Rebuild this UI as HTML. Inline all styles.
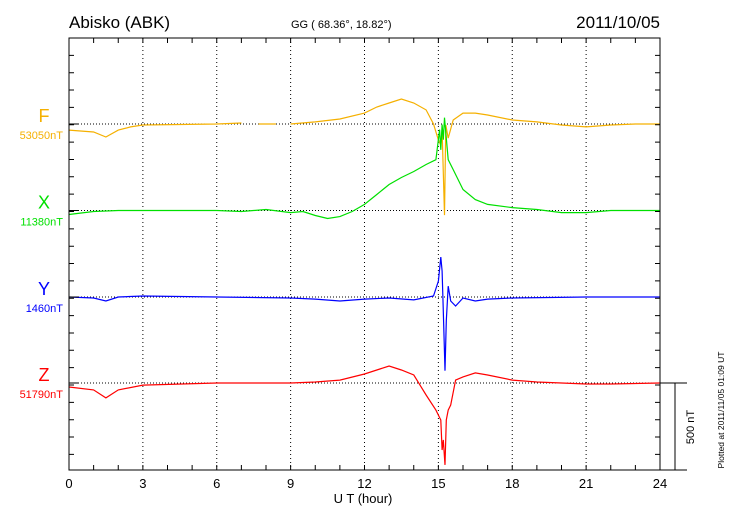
<!DOCTYPE html>
<html><head><meta charset="utf-8"><style>
body{margin:0;background:#fff;}
svg{display:block;font-family:"Liberation Sans",sans-serif;}
</style></head><body>
<svg id="chart" width="730" height="520" viewBox="0 0 730 520">
<text x="69" y="28" font-size="17">Abisko (ABK)</text>
<text x="291" y="28" font-size="11">GG ( 68.36°,  18.82°)</text>
<text x="660" y="28" font-size="17" text-anchor="end">2011/10/05</text>
<g id="grid"></g>
<g id="series"></g>
<g id="axes"></g>
<text x="363" y="503" font-size="13" text-anchor="middle">U T (hour)</text>
<text transform="translate(694,427) rotate(-90)" font-size="11" text-anchor="middle">500 nT</text>
<text transform="translate(724,410) rotate(-90)" font-size="8.5" text-anchor="middle">Plotted at 2011/11/05 01:09 UT</text>
</svg>
<script>
const xTicks=[0,3,6,9,12,15,18,21,24];
const names=["F","X","Y","Z"];
const baseLabels=["53050nT","11380nT","1460nT","51790nT"];
const colors=["#f5b000","#00e000","#0000ff","#ff0000"];
const fH=[0,1,1.5,2,2.5,3,6,7,7.1,7.7,8.4,8.5,9,10,11,12,12.5,13,13.5,14,14.5,14.8,15.0,15.1,15.15,15.25,15.3,15.4,15.6,16,16.5,17,18,19,20,21,22,23,24];
const fV=[-35,-46,-75,-35,-17,-6,0,6,null,0,0,null,0,12,29,63,98,121,144,121,81,0,-92,-121,-35,-525,-6,-81,23,63,63,52,23,12,-6,-17,-6,0,0];
const xH=[0,1,2,3,6,7,8,9,9.5,10,10.5,11,11.5,12,12.5,13,13.5,14,14.5,14.9,15.05,15.1,15.15,15.2,15.25,15.4,15.6,16,16.5,17,18,19,20,21,22,24];
const xV=[-23,-6,0,0,0,-6,6,-12,-6,-29,-46,-35,-6,35,92,150,190,225,265,293,466,350,495,408,535,293,236,121,63,35,17,6,-12,-12,0,0];
const yH=[0,1,1.5,2,3,6,9,10,11,12,13,14,14.8,15.0,15.1,15.15,15.2,15.27,15.32,15.4,15.5,15.7,16,16.5,17,18,21,24];
const yV=[0,-6,-23,0,6,0,-6,-12,-23,-12,-6,-17,6,92,230,150,-81,-425,-138,63,-23,-52,-6,-23,-12,-6,0,0];
const zH=[0,1,1.5,2,3,6,9,10,11,12,13,13.5,14,14.5,14.9,15.1,15.15,15.2,15.27,15.32,15.4,15.5,15.7,16,16.5,17,18,19,20,21,22,24];
const zV=[-23,-40,-86,-40,-12,0,0,6,17,52,98,75,46,-69,-156,-213,-386,-328,-472,-213,-156,-127,17,35,58,46,17,6,0,-6,-6,0];
const hours=[fH,xH,yH,zH], vals=[fV,xV,yV,zV];
const L=69,R=660,T=38,B=470;
const baseY=[124,210.5,297,383];
const pxPerNT=0.1735;
const sx=h=>L+h*(R-L)/24;
const sy=(i,v)=>baseY[i]-v*pxPerNT;
const NS="http://www.w3.org/2000/svg";
function mk(tag,attrs,parent){const e=document.createElementNS(NS,tag);for(const k in attrs)e.setAttribute(k,attrs[k]);parent.appendChild(e);return e;}
const grid=document.getElementById('grid'),axes=document.getElementById('axes'),ser=document.getElementById('series'),svg=document.getElementById('chart');
xTicks.forEach(t=>{if(t>0&&t<24){const l=mk('line',{x1:sx(t),x2:sx(t),y1:T,y2:B,stroke:'#000','stroke-width':1,'stroke-dasharray':'1,3'},grid);

}
const tx=mk('text',{x:sx(t),y:488,'font-size':13,'text-anchor':'middle'},axes);tx.textContent=t;

});
baseY.forEach(b=>{const l=mk('line',{x1:L,x2:R,y1:b,y2:b,stroke:'#000','stroke-width':1,'stroke-dasharray':'1,2'},grid);

});
mk('rect',{x:L,y:T,width:R-L,height:B-T,fill:'none',stroke:'#000','stroke-width':1},axes);
let d='';
for(let h=1;h<24;h++){const x=sx(h);d+=`M${x} ${T}v5M${x} ${B}v-5`;}
for(let k=1;k<25;k++){const y=T+k*100*pxPerNT;if(y>=B)break;d+=`M${L} ${y}h5M${R} ${y}h-5`;}
baseY.forEach(b=>{d+=`M${L} ${b}h10`;});
d+=`M${R} ${B}H687M${R} 383H687M675 383V${B}`;
const tk=mk('path',{d:d,stroke:'#000','stroke-width':1,fill:'none'},axes);


names.forEach((n,i)=>{
 let p='',pen=false;
 hours[i].forEach((h,j)=>{const v=vals[i][j];if(v===null){pen=false;return;}p+=(pen?'L':'M')+sx(h).toFixed(1)+' '+sy(i,v).toFixed(1);pen=true;});
 const pl=mk('path',{d:p,stroke:colors[i],'stroke-width':1.2,fill:'none'},ser);
 
 
 const t1=mk('text',{x:44,y:baseY[i]-2,'font-size':18,'text-anchor':'middle',fill:colors[i]},svg);t1.textContent=n;
 
 
 const t2=mk('text',{x:63,y:baseY[i]+15,'font-size':11,'text-anchor':'end',fill:colors[i]},svg);t2.textContent=baseLabels[i];
 
 
});
</script>
</body></html>
